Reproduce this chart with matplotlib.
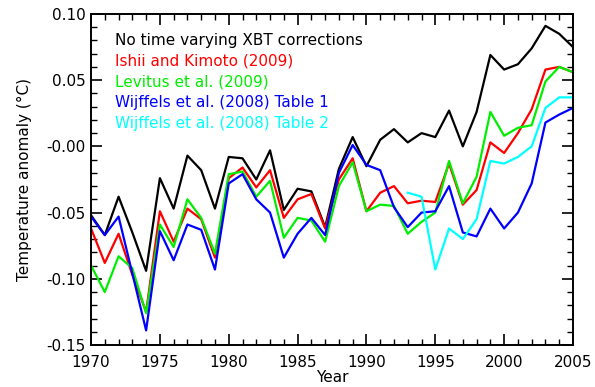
import numpy as np
import matplotlib
matplotlib.use("Agg")
import matplotlib.pyplot as plt
from matplotlib.ticker import MultipleLocator, FixedLocator

years = np.arange(1970, 2006)

# no time varying XBT corrections
black = [-0.052, -0.067, -0.038, -0.065, -0.094, -0.024, -0.047, -0.007, -0.018, -0.047,
         -0.008, -0.009, -0.025, -0.003, -0.048, -0.032, -0.034, -0.061, -0.017, 0.007,
         -0.015, 0.005, 0.013, 0.003, 0.010, 0.007, 0.027, 0.000, 0.026, 0.069,
         0.058, 0.062, 0.074, 0.091, 0.085, 0.075]
# Ishii and Kimoto (2009)
red = [-0.062, -0.088, -0.066, -0.097, -0.125, -0.049, -0.072, -0.047, -0.055, -0.084,
       -0.024, -0.016, -0.031, -0.018, -0.054, -0.040, -0.036, -0.062, -0.025, -0.009,
       -0.049, -0.035, -0.030, -0.043, -0.041, -0.042, -0.013, -0.044, -0.033, 0.003,
       -0.005, 0.010, 0.028, 0.058, 0.060, 0.056]
# Levitus et al. (2009)
green = [-0.090, -0.110, -0.083, -0.092, -0.126, -0.059, -0.076, -0.040, -0.054, -0.081,
         -0.021, -0.019, -0.038, -0.026, -0.069, -0.054, -0.056, -0.072, -0.030, -0.012,
         -0.049, -0.044, -0.045, -0.066, -0.057, -0.050, -0.011, -0.043, -0.023, 0.026,
         0.008, 0.014, 0.016, 0.049, 0.060, 0.056]
# Wijffels et al. (2008) Table 1
blue = [-0.053, -0.067, -0.053, -0.096, -0.139, -0.064, -0.086, -0.059, -0.063, -0.093,
        -0.028, -0.021, -0.040, -0.050, -0.084, -0.066, -0.054, -0.067, -0.020, 0.001,
        -0.014, -0.018, -0.046, -0.061, -0.050, -0.049, -0.030, -0.065, -0.068, -0.047,
        -0.062, -0.050, -0.028, 0.018, 0.024, 0.029]
# Wijffels et al. (2008) Table 2, starts in 1993
cyan_years = np.arange(1993, 2006)
cyan = [-0.035, -0.038, -0.093, -0.062, -0.070, -0.055, -0.011, -0.013, -0.008, 0.000,
        0.029, 0.037, 0.037]

labels = ["No time varying XBT corrections", "Ishii and Kimoto (2009)",
          "Levitus et al. (2009)", "Wijffels et al. (2008) Table 1",
          "Wijffels et al. (2008) Table 2"]
colors = ["black", "#ff0000", "#00ee00", "#0000ff", "#00ffff"]

fig = plt.figure(figsize=(5.95, 3.87), dpi=100)
ax = fig.add_axes([0.153, 0.1085, 0.81, 0.8555])

series = [(years, black), (years, red), (years, green), (years, blue), (cyan_years, cyan)]
for (x, y), c in zip(series, colors):
    ax.plot(x, y, color=c, lw=1.6)

ax.set_xlim(1970, 2005)
ax.set_ylim(-0.15, 0.10)
ax.xaxis.set_major_locator(MultipleLocator(5))
ax.xaxis.set_minor_locator(MultipleLocator(1))
yt = [-0.15, -0.10, -0.05, 0.0, 0.05, 0.10]
ax.yaxis.set_major_locator(FixedLocator(yt))
ax.set_yticklabels(["-0.15", "-0.10", "-0.05", "-0.00", "0.05", "0.10"])
ax.yaxis.set_minor_locator(MultipleLocator(0.01))
ax.tick_params(which="both", direction="in", top=True, right=True, labelsize=11)
ax.tick_params(which="major", length=8, width=1.2)
ax.tick_params(which="minor", length=4, width=1.0)
ax.tick_params(axis="x", which="major", pad=7)
ax.tick_params(axis="y", which="major", pad=4)
for s in ax.spines.values():
    s.set_linewidth(1.4)

ax.set_xlabel("Year", fontsize=11, labelpad=0)
ax.set_ylabel("Temperature anomaly (\u00b0C)", fontsize=11, labelpad=10)

for i, (t, c) in enumerate(zip(labels, colors)):
    ax.text(0.05, 0.92 - i * 0.063, t, color=c, fontsize=11,
            transform=ax.transAxes, va="center", ha="left")

fig.savefig("out.png", dpi=100)
